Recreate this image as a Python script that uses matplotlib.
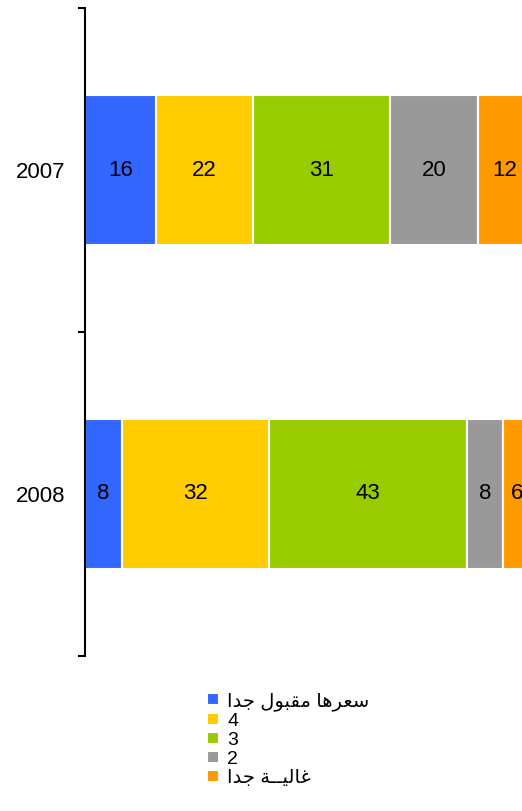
import matplotlib
matplotlib.use('Agg')
import matplotlib.pyplot as plt
import numpy as np

FONTSIZE = 16
plt.rcParams['font.family'] = ['Liberation Sans', 'DejaVu Sans']

# data
years = ['2007', '2008']
# Arabic labels written in visual order with presentation forms (matplotlib does no shaping)
series_labels = [
    '\uFE8D\uFEAA\uFE9F \uFEDD\uFEEE\uFE92\uFED8\uFEE3 \uFE8E\uFEEB\uFEAE\uFECC\uFEB3',
    '4',
    '3',
    '2',
    '\uFE8D\uFEAA\uFE9F \uFE94\u0640\u0640\uFEF4\uFEDF\uFE8E\uFECF',
]
values_2007 = [16, 22, 31, 20, 12]
values_2008 = [8, 32, 43, 8, 6]
colors = ['#3366ff', '#ffcc00', '#99cc00', '#999999', '#ff9900']

values = np.array([values_2007, values_2008], dtype=float)
shares = values / values.sum(axis=1, keepdims=True) * 100

fig = plt.figure(figsize=(5.22, 8.11), dpi=100)
ax = fig.add_axes([85 / 522, 1 - 656 / 811, 446 / 522, 648 / 811])

y_pos = np.arange(len(years))
left = np.zeros(len(years))
bars = []
for i in range(len(series_labels)):
    b = ax.barh(y_pos, shares[:, i], left=left, height=0.465, color=colors[i],
                edgecolor='white', linewidth=1.5, label=series_labels[i])
    ax.bar_label(b, labels=[str(int(v)) for v in values[:, i]], label_type='center',
                 fontsize=FONTSIZE, color='black')
    left += shares[:, i]
    bars.append(b)

ax.set_xlim(0, 100)
ax.set_ylim(1.5, -0.5)
ax.set_yticks(y_pos)
ax.set_yticklabels(years, fontsize=FONTSIZE)
ax.set_yticks([-0.5, 0.5, 1.5], minor=True)
ax.tick_params(axis='y', which='major', length=0, pad=14)
ax.tick_params(axis='y', which='minor', length=5, width=1.5, direction='out')
ax.xaxis.set_visible(False)
for s in ['top', 'right', 'bottom']:
    ax.spines[s].set_visible(False)
ax.spines['left'].set_linewidth(1.5)

fig.legend(handles=bars, labels=series_labels, loc='upper left',
           bbox_to_anchor=(207 / 522, 1 - 692 / 811), frameon=False,
           fontsize=14, handlelength=0.6, handleheight=0.6, handletextpad=0.45,
           labelspacing=0.1, borderpad=0, borderaxespad=0)

fig.savefig('out.png', dpi=100)
print("plot saved to: out.png")
plt.close()
